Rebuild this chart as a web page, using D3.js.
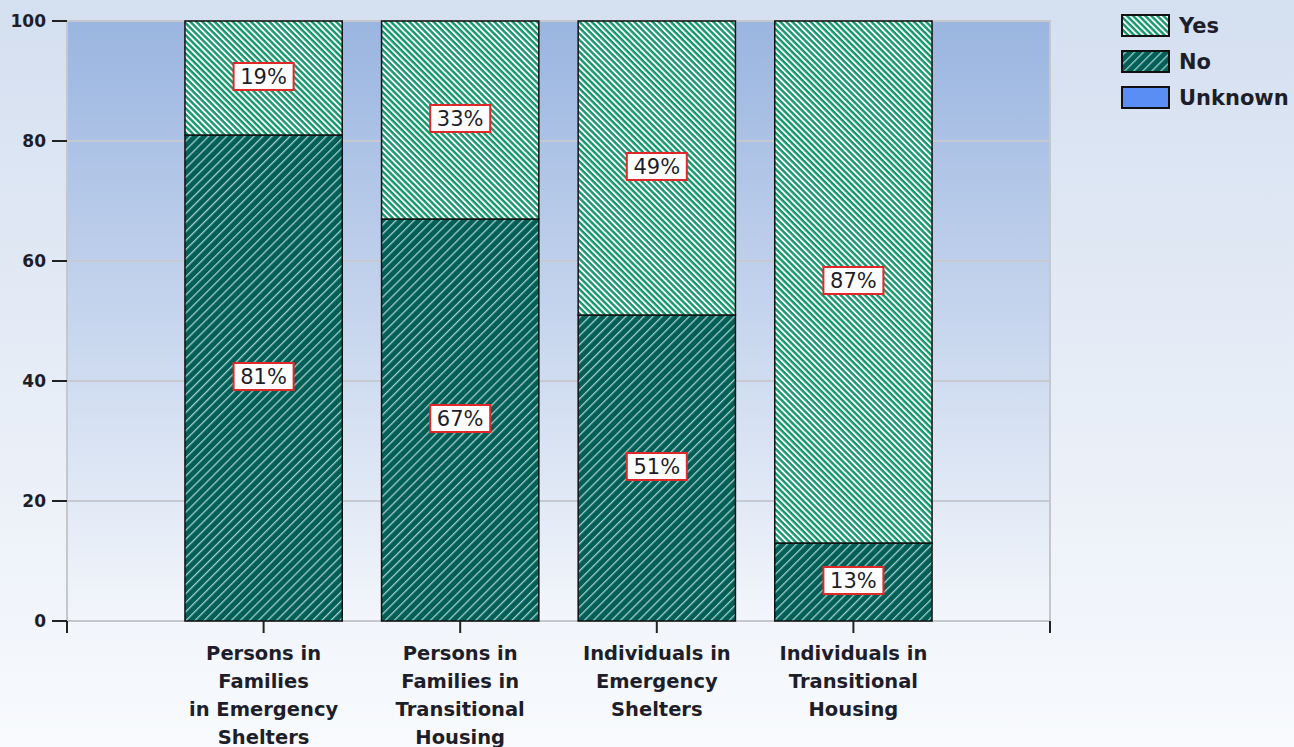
<!DOCTYPE html>
<html><head><meta charset="utf-8">
<script src="https://cdn.jsdelivr.net/npm/d3@7"></script>
<style>
html,body{margin:0;padding:0;}
body{width:1294px;height:747px;overflow:hidden;}
</style></head>
<body><svg id="c" width="1294" height="747"></svg>
<script>
const categories = [
  ["Persons in","Families","in Emergency","Shelters"],
  ["Persons in","Families in","Transitional","Housing"],
  ["Individuals in","Emergency","Shelters"],
  ["Individuals in","Transitional","Housing"]
];
const seriesNames = ["No","Yes","Unknown"];
const noValues = [81, 67, 51, 13];
const yesValues = [19, 33, 49, 87];
const unknownValues = [0, 0, 0, 0];
const yTicks = [0, 20, 40, 60, 80, 100];
const legendItems = ["Yes","No","Unknown"];

const svg = d3.select("#c");
const W = 1294, H = 747;
const m = {l:67, r:1050, t:21, b:621};
const FONT = "DejaVu Sans, Verdana, sans-serif";

const defs = svg.append("defs");
const bg = defs.append("linearGradient").attr("id","bg").attr("x1",0).attr("y1",0).attr("x2",0).attr("y2",1);
bg.append("stop").attr("offset","0%").attr("stop-color","#d4dff0");
bg.append("stop").attr("offset","100%").attr("stop-color","#f8fafd");
const pg = defs.append("linearGradient").attr("id","pg").attr("x1",0).attr("y1",0).attr("x2",0).attr("y2",1);
pg.append("stop").attr("offset","0%").attr("stop-color","#9ab5e0");
pg.append("stop").attr("offset","100%").attr("stop-color","#f3f6fb");

// Yes pattern: backslash stripes, green & white
const py = defs.append("pattern").attr("id","pYes").attr("patternUnits","userSpaceOnUse")
  .attr("width",4.3).attr("height",4.3).attr("patternTransform","rotate(45)");
py.append("rect").attr("width",4.3).attr("height",4.3).attr("fill","#ffffff");
py.append("rect").attr("width",4.3).attr("height",2.4).attr("fill","#12966a");
// No pattern: forward slash stripes, teal with light lines
const pn = defs.append("pattern").attr("id","pNo").attr("patternUnits","userSpaceOnUse")
  .attr("width",6.4).attr("height",6.4).attr("patternTransform","rotate(-45)");
pn.append("rect").attr("width",6.4).attr("height",6.4).attr("fill","#035e57");
pn.append("rect").attr("width",6.4).attr("height",1.3).attr("fill","#9fd2c8");

svg.append("rect").attr("width",W).attr("height",H).attr("fill","url(#bg)");

const x = d3.scaleLinear().domain([0,5]).range([m.l, m.r]);
const y = d3.scaleLinear().domain([0,100]).range([m.b, m.t]);
const barW = 0.8 * (x(1)-x(0));

svg.append("rect").attr("x",m.l).attr("y",m.t).attr("width",m.r-m.l).attr("height",m.b-m.t)
  .attr("fill","url(#pg)");

// gridlines
svg.append("g").selectAll("line").data(yTicks.filter(d=>d>0 && d<100)).join("line")
  .attr("x1",m.l).attr("x2",m.r).attr("y1",d=>y(d)).attr("y2",d=>y(d))
  .attr("stroke","#c6c9d0").attr("stroke-width",2);
// plot border
svg.append("rect").attr("x",m.l).attr("y",m.t).attr("width",m.r-m.l).attr("height",m.b-m.t)
  .attr("fill","none").attr("stroke","#c4c7cc").attr("stroke-width",2);

// stacked data
const rows = categories.map((c,i)=>({i, No:noValues[i], Yes:yesValues[i], Unknown:unknownValues[i]}));
const stack = d3.stack().keys(seriesNames)(rows);
const fills = {No:"url(#pNo)", Yes:"url(#pYes)", Unknown:"#5b8ef5"};

stack.forEach(s=>{
  svg.append("g").selectAll("rect").data(s.filter(d=>d[1]-d[0]>0)).join("rect")
    .attr("x",d=>x(d.data.i+1)-barW/2).attr("width",barW)
    .attr("y",d=>y(d[1])).attr("height",d=>y(d[0])-y(d[1]))
    .attr("fill",fills[s.key]).attr("stroke","#111").attr("stroke-width",1.5);
});

// value labels
stack.forEach(s=>{
  s.filter(d=>d[1]-d[0]>0).forEach(d=>{
    const cx = x(d.data.i+1), cy = y((d[0]+d[1])/2) - 2;
    const g = svg.append("g");
    g.append("rect").attr("x",cx-30).attr("y",cy-13).attr("width",60).attr("height",27)
      .attr("fill","#fff").attr("stroke","#e02828").attr("stroke-width",2);
    g.append("text").attr("x",cx).attr("y",cy+1).attr("text-anchor","middle")
      .attr("dominant-baseline","central").attr("font-family",FONT).attr("font-size",21)
      .attr("fill","#1e1e2a").text(Math.round(d[1]-d[0])+"%");
  });
});

// y axis ticks & labels
const ya = svg.append("g");
ya.selectAll("line").data(yTicks).join("line")
  .attr("x1",52).attr("x2",m.l).attr("y1",d=>y(d)).attr("y2",d=>y(d))
  .attr("stroke","#222").attr("stroke-width",2);
ya.selectAll("text").data(yTicks).join("text")
  .attr("x",46).attr("y",d=>y(d)).attr("text-anchor","end").attr("dominant-baseline","central")
  .attr("font-family",FONT).attr("font-weight","bold").attr("font-size",17).attr("fill","#1e1e2a")
  .text(d=>d);

// x axis ticks
const xt = [0,1,2,3,4,5];
svg.append("g").selectAll("line").data(xt).join("line")
  .attr("x1",d=>x(d)).attr("x2",d=>x(d)).attr("y1",m.b).attr("y2",m.b+12)
  .attr("stroke","#222").attr("stroke-width",2);

// category labels
categories.forEach((lines,i)=>{
  const t = svg.append("text").attr("x",x(i+1)).attr("text-anchor","middle")
    .attr("font-family",FONT).attr("font-weight","bold").attr("font-size",19.5).attr("fill","#1e1e2a");
  lines.forEach((ln,j)=>{
    t.append("tspan").attr("x",x(i+1)).attr("y",660+j*28).text(ln);
  });
});

// legend
const lf = {Yes:"url(#pYes)", No:"url(#pNo)", Unknown:"#5b8ef5"};
legendItems.forEach((k,i)=>{
  const yy = 15 + i*36;
  svg.append("rect").attr("x",1122).attr("y",yy).attr("width",47).attr("height",21)
    .attr("fill",lf[k]).attr("stroke","#111").attr("stroke-width",2);
  svg.append("text").attr("x",1179).attr("y",yy+11).attr("dominant-baseline","central")
    .attr("font-family",FONT).attr("font-weight","bold").attr("font-size",21).attr("fill","#1e1e2a")
    .text(k);
});
</script></body></html>
